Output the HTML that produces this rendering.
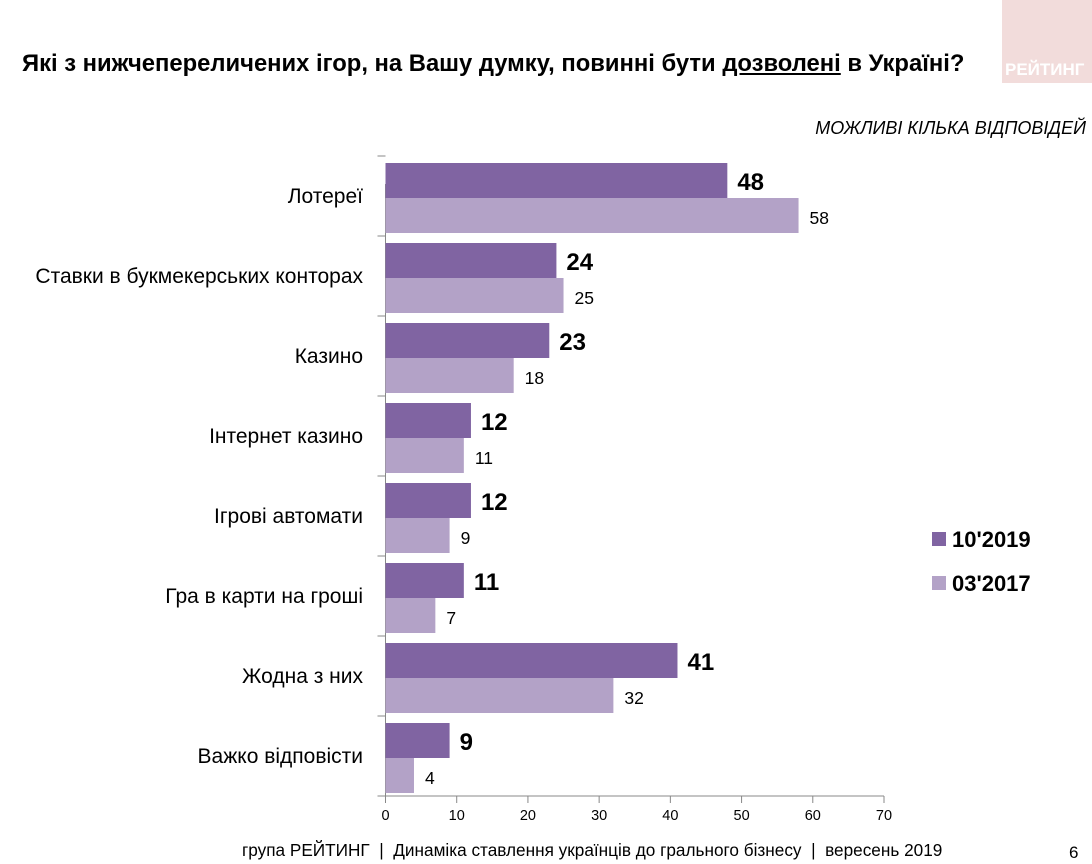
<!DOCTYPE html>
<html><head><meta charset="utf-8"><style>
body{margin:0;width:1092px;height:864px;background:#fff;font-family:"Liberation Sans",sans-serif;position:relative;overflow:hidden}
.t{position:absolute;white-space:nowrap}
</style></head><body>
<div style="position:absolute;left:1002px;top:0;width:90px;height:83px;background:#f2dcdb"></div>
<div class="t" style="left:1005px;top:60px;font-size:17px;font-weight:bold;color:#fff">РЕЙТИНГ</div>
<div class="t" style="left:22px;top:50px;font-size:23.8px;font-weight:bold;color:#000">Які з нижчепереличених ігор, на Вашу думку, повинні бути <u>дозволені</u> в Україні?</div>
<div class="t" style="right:6px;top:118px;font-size:18px;font-style:italic;color:#000">МОЖЛИВІ КІЛЬКА ВІДПОВІДЕЙ</div>
<svg id="c" width="1092" height="864" style="position:absolute;left:0;top:0"></svg>
<div class="t" style="left:242px;top:840px;font-size:17.2px;color:#000">група РЕЙТИНГ &nbsp;|&nbsp; Динаміка ставлення українців до грального бізнесу &nbsp;|&nbsp; вересень 2019</div>
<div class="t" style="left:1069px;top:843px;font-size:17px;color:#000">6</div>
<script>
const categories=["Лотереї","Ставки в букмекерських конторах","Казино","Інтернет казино","Ігрові автомати","Гра в карти на гроші","Жодна з них","Важко відповісти"];
const series2019=[48,24,23,12,12,11,41,9];
const series2017=[58,25,18,11,9,7,32,4];
const ticks=[0,10,20,30,40,50,60,70];
const NS="http://www.w3.org/2000/svg",svg=document.getElementById('c');
const x0=385.5,x1=884,top0=156,band=80,xmax=70;
const X=v=>x0+(x1-x0)*v/xmax;
function mk(t,a,txt){const e=document.createElementNS(NS,t);for(const k in a)e.setAttribute(k,a[k]);if(txt!=null)e.textContent=txt;svg.appendChild(e);return e;}
const bottom=top0+band*categories.length;
let ax=mk('line',{x1:x0,y1:top0+28,x2:x0,y2:bottom,stroke:'#888'});


let bx=mk('line',{x1:x0,y1:bottom,x2:x1,y2:bottom,stroke:'#888'});


for(let i=0;i<=categories.length;i++){const y=top0+band*i;let l=mk('line',{x1:x0-8,y1:y,x2:x0,y2:y,stroke:'#888'});}
ticks.forEach(t=>{let l=mk('line',{x1:X(t),y1:bottom,x2:X(t),y2:bottom+7,stroke:'#888'});


let tx=mk('text',{x:X(t),y:bottom+24,'font-size':14.5,'text-anchor':'middle','font-family':'Liberation Sans'},t);

});
categories.forEach((c,i)=>{const y=top0+band*i;
let lb=mk('text',{x:363,y:y+47,'font-size':21,'text-anchor':'end','font-family':'Liberation Sans'},c);


let b1=mk('rect',{x:x0,y:y+7,width:X(series2019[i])-x0,height:35,fill:'#8064a2'});


let b2=mk('rect',{x:x0,y:y+42,width:X(series2017[i])-x0,height:35,fill:'#b3a2c7'});


let v1=mk('text',{x:X(series2019[i])+10,y:y+34,'font-size':24,'font-weight':'bold','font-family':'Liberation Sans'},series2019[i]);


let v2=mk('text',{x:X(series2017[i])+11,y:y+68,'font-size':17.5,'font-family':'Liberation Sans'},series2017[i]);

});
[['10\'2019','#8064a2',545],['03\'2017','#b3a2c7',589]].forEach(([n,col,y])=>{
let r=mk('rect',{x:932,y:y-13,width:14,height:14,fill:col});


let t=mk('text',{x:952,y:y+2,'font-size':22,'font-weight':'bold','font-family':'Liberation Sans'},n);

});
</script>
</body></html>
